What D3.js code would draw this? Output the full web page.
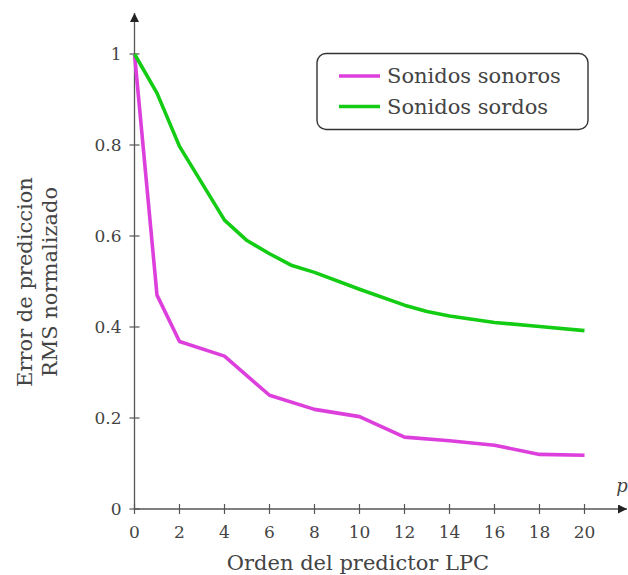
<!DOCTYPE html>
<html>
<head>
<meta charset="utf-8">
<script src="https://cdn.jsdelivr.net/npm/d3@7"></script>
<style>
  body { margin: 0; background: #fff; }
  text { font-family: "DejaVu Serif", "Liberation Serif", serif; fill: #444; }
</style>
</head>
<body>
<div id="chart"></div>
<script>
// orden del predictor p
const orders = [0, 1, 2, 4, 6, 8, 10, 12, 14, 16, 18, 20];
const sonoros = [1, 0.47, 0.368, 0.336, 0.25, 0.219, 0.203, 0.158, 0.15, 0.14, 0.12, 0.118];
const ordersSordos = [0, 1, 2, 4, 5, 6, 7, 8, 10, 12, 13, 14, 16, 18, 20];
const sordos = [1, 0.914, 0.797, 0.635, 0.59, 0.561, 0.535, 0.52, 0.483, 0.448, 0.434, 0.424, 0.41, 0.401, 0.392];
const xTicks = [0, 2, 4, 6, 8, 10, 12, 14, 16, 18, 20];
const yTicks = [0, 0.2, 0.4, 0.6, 0.8, 1];
const series = [
  { name: 'Sonidos sonoros', x: orders, y: sonoros, color: '#dd3fdd' },
  { name: 'Sonidos sordos', x: ordersSordos, y: sordos, color: '#14cc14' }
];

const width = 628, height = 575;
const svg = d3.select('#chart').append('svg')
  .attr('width', width)
  .attr('height', height);

const x = d3.scaleLinear().domain([0, 20]).range([134.5, 584.5]);
const y = d3.scaleLinear().domain([0, 1]).range([509, 54]);

const axisColor = '#555';

// arrow heads
const defs = svg.append('defs');
defs.append('marker')
  .attr('id', 'arrow')
  .attr('viewBox', '0 0 10 10')
  .attr('refX', 10).attr('refY', 5)
  .attr('markerWidth', 9).attr('markerHeight', 9)
  .attr('markerUnits', 'userSpaceOnUse')
  .attr('orient', 'auto')
  .append('path')
  .attr('d', 'M0,0 L10,5 L0,10 z')
  .attr('fill', '#222');

// axes lines
svg.append('line')
  .attr('x1', x(0)).attr('y1', y(0))
  .attr('x2', 627).attr('y2', y(0))
  .attr('stroke', axisColor).attr('stroke-width', 1.3)
  .attr('marker-end', 'url(#arrow)');
svg.append('line')
  .attr('x1', x(0)).attr('y1', y(0))
  .attr('x2', x(0)).attr('y2', 13)
  .attr('stroke', axisColor).attr('stroke-width', 1.3)
  .attr('marker-end', 'url(#arrow)');

// ticks
svg.selectAll('.xtick').data(xTicks).enter().append('line')
  .attr('x1', d => x(d)).attr('x2', d => x(d))
  .attr('y1', y(0) - 5).attr('y2', y(0) + 5)
  .attr('stroke', axisColor).attr('stroke-width', 1.2);
svg.selectAll('.xlab').data(xTicks).enter().append('text')
  .attr('x', d => x(d)).attr('y', y(0) + 29)
  .attr('text-anchor', 'middle')
  .attr('font-size', 17)
  .text(d => d);

svg.selectAll('.ytick').data(yTicks).enter().append('line')
  .attr('x1', x(0) - 5).attr('x2', x(0) + 5)
  .attr('y1', d => y(d)).attr('y2', d => y(d))
  .attr('stroke', axisColor).attr('stroke-width', 1.2);
svg.selectAll('.ylab').data(yTicks).enter().append('text')
  .attr('x', x(0) - 13).attr('y', d => y(d) + 6)
  .attr('text-anchor', 'end')
  .attr('font-size', 17)
  .text(d => d);

// axis titles
svg.append('text')
  .attr('x', 622).attr('y', 492)
  .attr('text-anchor', 'middle')
  .attr('font-size', 18).attr('font-style', 'italic')
  .text('p');
svg.append('text')
  .attr('x', 358).attr('y', 570)
  .attr('text-anchor', 'middle')
  .attr('font-size', 21)
  .text('Orden del predictor LPC');
const yTitle = svg.append('text')
  .attr('transform', 'translate(32,282) rotate(-90)')
  .attr('text-anchor', 'middle')
  .attr('font-size', 21);
yTitle.append('tspan').attr('x', 0).attr('dy', 0).text('Error de prediccion');
yTitle.append('tspan').attr('x', 0).attr('dy', 25).text('RMS normalizado');

// lines
const line = d3.line()
  .x(d => x(d[0]))
  .y(d => y(d[1]));
series.forEach(s => {
  svg.append('path')
    .datum(s.x.map((v, i) => [v, s.y[i]]))
    .attr('d', line)
    .attr('fill', 'none')
    .attr('stroke', s.color)
    .attr('stroke-width', 3.6)
    .attr('stroke-linejoin', 'round');
});

// legend
const legend = svg.append('g');
legend.append('rect')
  .attr('x', 317).attr('y', 53.5)
  .attr('width', 271).attr('height', 76)
  .attr('rx', 9)
  .attr('fill', '#fff')
  .attr('stroke', '#333').attr('stroke-width', 1.4);
series.forEach((s, i) => {
  const ly = 76 + i * 30.5;
  legend.append('line')
    .attr('x1', 339).attr('x2', 380)
    .attr('y1', ly).attr('y2', ly)
    .attr('stroke', s.color).attr('stroke-width', 3.6);
  legend.append('text')
    .attr('x', 387).attr('y', ly + 7)
    .attr('font-size', 21)
    .text(s.name);
});
</script>
</body>
</html>
